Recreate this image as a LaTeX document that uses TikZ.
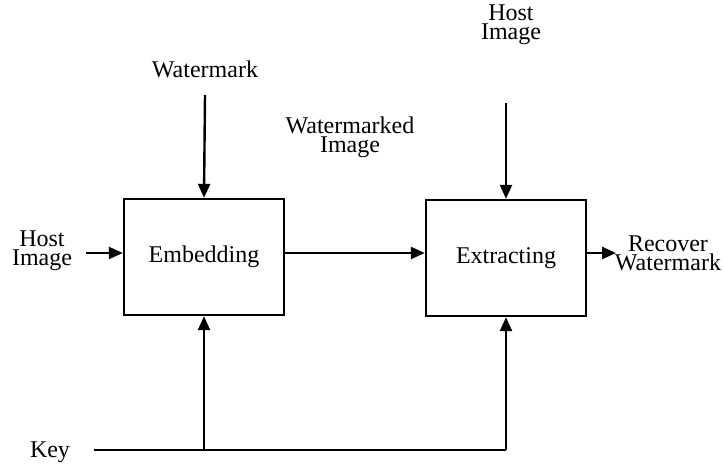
\documentclass[tikz,border=0pt]{standalone}
\usepackage{fontspec}
\setmainfont{Liberation Serif}
\usetikzlibrary{arrows.meta}
\begin{document}
\begin{tikzpicture}[x=0.5pt,y=-0.5pt,
        blk/.style={draw, line width=1.2pt, minimum width=80pt, minimum height=58pt, font=\fontsize{12}{14}\selectfont},
        lbl/.style={align=center, font=\fontsize{12}{9.5}\selectfont},
        arr/.style={-{Triangle[length=7pt,width=6pt]}, line width=1.2pt}]
        \useasboundingbox (0,0) rectangle (724,466);

        % the two blocks
        \node[blk] (embed) at (204,257) {Embedding};
        \node[blk] (extract) at (506,258) {Extracting};

        % labels
        \node[lbl] (wm) at (205,69) {Watermark};
        \node[lbl] (hostL) at (42,251) {Host\\Image};
        \node[lbl] (hostT) at (511,25) {Host\\Image};
        \node[lbl] (wmimg) at (350,137) {Watermarked\\Image};
        \node[lbl] (recov) at (668,253) {Recover\\Watermark};
        \node[lbl] (key) at (50,452) {Key};

        % free ends of the connectors
        \coordinate (wmEnd) at (205,95);
        \coordinate (hostTEnd) at (506,103);
        \coordinate (hostLEnd) at (86,253);
        \coordinate (outEnd) at (616,253);
        \coordinate (keyL) at (94,450);

        \draw[arr] (wmEnd) -- (embed.north);
        \draw[arr] (hostTEnd) -- (extract.north);
        \draw[arr] (hostLEnd) -- (hostLEnd -| embed.west);
        \draw[arr] (embed.east |- hostLEnd) -- (extract.west |- hostLEnd);
        \draw[arr] (extract.east |- hostLEnd) -- (outEnd);

        % key line feeding both blocks
        \draw[line width=1.2pt] (keyL) -- (keyL -| extract.south);
        \draw[arr] (keyL -| embed.south) -- (embed.south);
        \draw[arr] (keyL -| extract.south) -- (extract.south);
    \end{tikzpicture}
\end{document}
